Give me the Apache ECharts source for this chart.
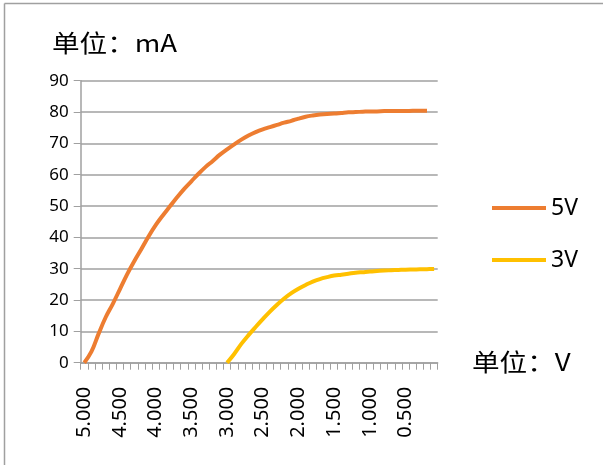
<!DOCTYPE html>
<html>
<head>
<meta charset="utf-8">
<script src="https://cdn.jsdelivr.net/npm/echarts@6/dist/echarts.min.js"></script>
<style>
html,body{margin:0;padding:0;background:#fff;}
#c{width:603px;height:465px;}
</style>
</head>
<body>
<div id="c"></div>
<script>
var categories = ['5.000','4.900','4.800','4.700','4.600','4.500','4.400','4.300','4.200','4.100',
  '4.000','3.900','3.800','3.700','3.600','3.500','3.400','3.300','3.200','3.100',
  '3.000','2.900','2.800','2.700','2.600','2.500','2.400','2.300','2.200','2.100',
  '2.000','1.900','1.800','1.700','1.600','1.500','1.400','1.300','1.200','1.100',
  '1.000','0.900','0.800','0.700','0.600','0.500','0.400','0.300','0.200','0.100'];
var series5V = [0,3.5,9.2,14.5,18.8,23.5,28.2,32.4,36.3,40.3,
  43.9,47,49.9,52.8,55.5,57.9,60.3,62.5,64.4,66.4,
  68.1,69.7,71.2,72.5,73.6,74.5,75.2,75.9,76.6,77.2,
  77.9,78.5,78.9,79.2,79.4,79.5,79.7,79.9,80.0,80.1,
  80.2,80.2,80.3,80.3,80.3,80.3,80.4,80.4,80.4,null];
var series3V = [null,null,null,null,null,null,null,null,null,null,
  null,null,null,null,null,null,null,null,null,null,
  0,2.8,6.0,8.8,11.4,13.9,16.3,18.5,20.5,22.2,
  23.6,24.8,25.9,26.7,27.3,27.8,28.1,28.4,28.7,28.9,
  29.1,29.25,29.4,29.5,29.6,29.7,29.75,29.8,29.85,29.9];
var seriesNames = ['5V','3V'];
var yTicks = {min:0, max:90, interval:10};
var unitY = '单位：mA';
var unitX = '单位：V';

var FONT = '"Noto Sans", "Noto Sans CJK SC", sans-serif';
var chart = echarts.init(document.getElementById('c'), null, {renderer:'canvas'});
chart.setOption({
  animation:false,
  backgroundColor:'#fff',
  textStyle:{fontFamily:FONT},
  grid:{left:80.7, right:165.3, top:80.7, bottom:102.3, containLabel:false},
  legend:{
    orient:'vertical', left:492, top:195, padding:0,
    itemWidth:54, itemHeight:4, itemGap:26,
    icon:'rect',
    textStyle:{fontSize:23, color:'#000', fontFamily:FONT, lineHeight:26},
    data:seriesNames
  },
  xAxis:{
    type:'category', data:categories, boundaryGap:true,
    axisLine:{lineStyle:{color:'#a0a0a0', width:1.5}},
    axisTick:{show:true, interval:0, length:7, lineStyle:{color:'#a0a0a0', width:1}},
    axisLabel:{interval:4, rotate:90, margin:24, fontSize:20, color:'#000', fontFamily:FONT}
  },
  yAxis:{
    type:'value', min:yTicks.min, max:yTicks.max, interval:yTicks.interval,
    axisLine:{show:true, lineStyle:{color:'#a0a0a0', width:1.5}},
    axisTick:{show:true, length:7, lineStyle:{color:'#a0a0a0', width:1}},
    axisLabel:{margin:12, fontSize:17, color:'#000', fontFamily:FONT},
    splitLine:{lineStyle:{color:'#a0a0a0', width:1.5}}
  },
  series:[
    {name:seriesNames[0], type:'line', data:series5V, smooth:0.4, showSymbol:false, symbol:'none',
     color:'#ED7D31', lineStyle:{width:4, color:'#ED7D31'}},
    {name:seriesNames[1], type:'line', data:series3V, smooth:0.4, showSymbol:false, symbol:'none',
     color:'#FFC000', lineStyle:{width:4, color:'#FFC000'}}
  ],
  graphic:[
    {type:'line', shape:{x1:4.5, y1:3.5, x2:603, y2:3.5}, style:{stroke:'#a0a0a0', lineWidth:1.5}},
    {type:'line', shape:{x1:4.5, y1:3.5, x2:4.5, y2:465}, style:{stroke:'#a0a0a0', lineWidth:1.5}},
    {type:'text', x:52, y:31, scaleX:1.15, style:{text:unitY, fontSize:24, fill:'#000', fontFamily:'"Noto Sans CJK SC", sans-serif'}},
    {type:'text', x:472, y:350, scaleX:1.15, style:{text:unitX, fontSize:24, fill:'#000', fontFamily:'"Noto Sans CJK SC", sans-serif'}}
  ]
});
</script>
</body>
</html>
